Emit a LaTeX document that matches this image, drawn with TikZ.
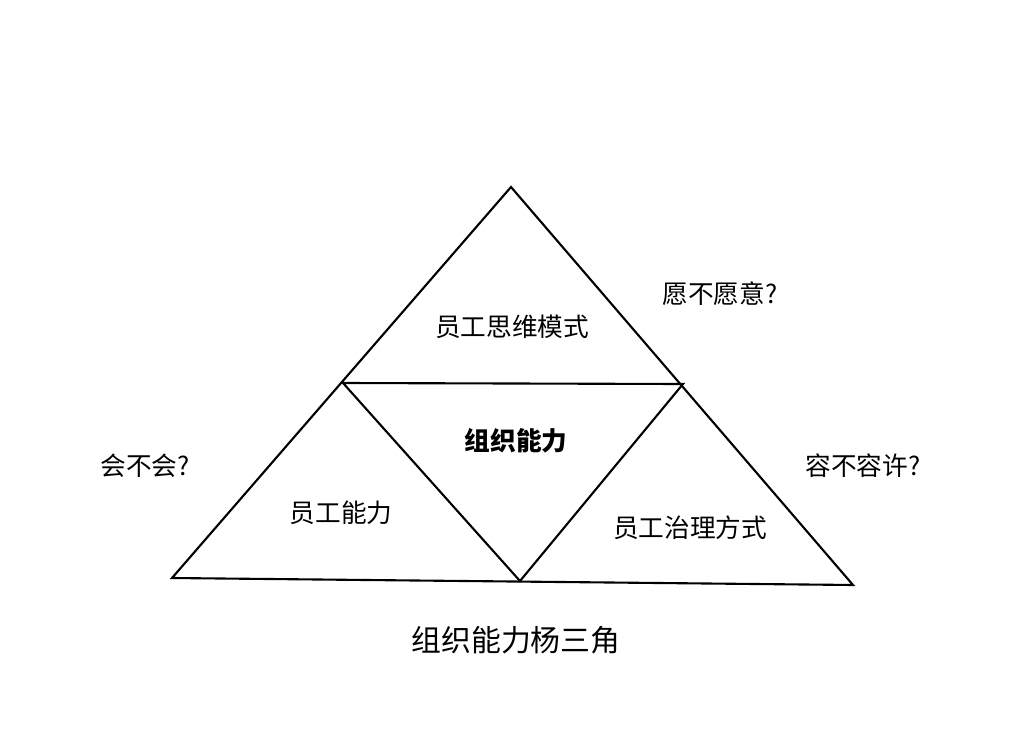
\documentclass[tikz,border=0pt]{standalone}
\usepackage{fontspec}
\newfontfamily\cjk{Noto Sans CJK SC}
\begin{document}
\begin{tikzpicture}[x=0.02cm, y=-0.02cm, line width=1.2pt]
\useasboundingbox (0,0) rectangle (1032,744);
\node[inner sep=0] (top) at (511,187){};
\node[inner sep=0] (bl) at (172,578){};
\node[inner sep=0] (br) at (853,585){};
\node[inner sep=0] (ml) at (343,383){};
\node[inner sep=0] (mr) at (683,384){};
\node[inner sep=0] (mb) at (520,581){};
\draw[](top.center) -- (bl.center) -- (br.center) -- cycle;
\draw[](ml.center) -- (mr.center) -- (mb.center) -- cycle;
\node[font=\cjk\fontsize{14.6}{16}\selectfont] (siwei) at (512,327){员工思维模式};
\node[font=\cjk\fontsize{14.6}{16}\selectfont\bfseries] (zuzhi) at (516,441){组织能力};
\node[font=\cjk\fontsize{14.6}{16}\selectfont] (nengli) at (341,513){员工能力};
\node[font=\cjk\fontsize{14.6}{16}\selectfont] (zhili) at (690,528){员工治理方式};
\node[font=\cjk\fontsize{14.6}{16}\selectfont] (yuan) at (720,294){愿不愿意?};
\node[font=\cjk\fontsize{14.6}{16}\selectfont] (hui) at (145,466){会不会?};
\node[font=\cjk\fontsize{14.6}{16}\selectfont] (rong) at (863,466){容不容许?};
\node[font=\cjk\fontsize{17}{19}\selectfont] (title) at (516,640){组织能力杨三角};
\end{tikzpicture}
\end{document}
